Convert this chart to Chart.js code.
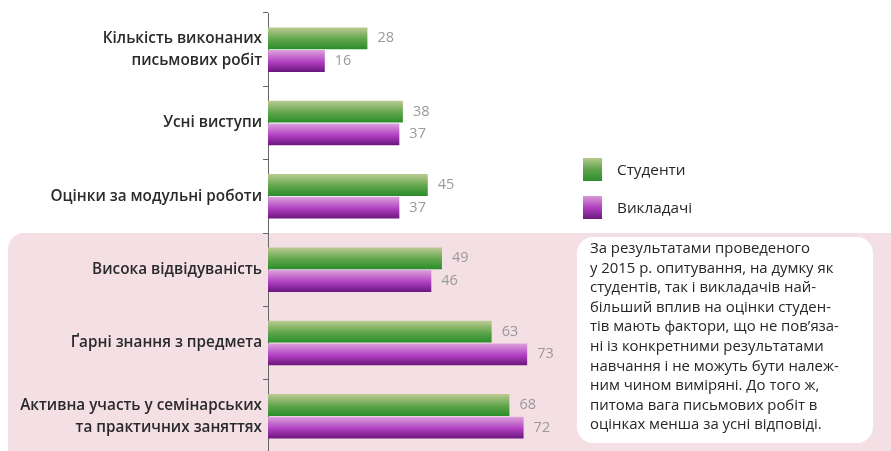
<!DOCTYPE html>
<html>
<head>
<meta charset="utf-8">
<script src="https://cdn.jsdelivr.net/npm/chart.js@4/dist/chart.umd.min.js"></script>
<style>
  html, body { margin: 0; padding: 0; background: #fff; overflow: hidden; }
  #wrap { position: relative; width: 891px; height: 451px; overflow: hidden; font-family: "Open Sans", Lato, sans-serif; }
  #pink { position: absolute; left: 8px; top: 233px; width: 900px; height: 240px; background: #f3dfe4; border-radius: 16px; }
  #note { position: absolute; left: 577px; top: 237px; width: 296px; height: 206px; background: #fff; border-radius: 16px;
          box-sizing: border-box; padding: 1px 0 0 13px; font-size: 14.9px; line-height: 19.6px; color: #262626; }
  .leg { position: absolute; left: 583px; font-size: 15.3px; color: #262626; }
  .leg span { position: absolute; left: 0; width: 19px; height: 23px; }
  .leg b { position: absolute; left: 34px; top: 1px; font-weight: normal; white-space: nowrap; }
  canvas { position: absolute; left: 0; top: 0; }
</style>
</head>
<body>
<div id="wrap">
  <div id="pink"></div>
  <canvas id="c" width="891" height="472"></canvas>
  <div class="leg" style="top:158px"><span style="background:linear-gradient(#b8c98f,#5ea24a,#2f8f2f)"></span><b>Студенти</b></div>
  <div class="leg" style="top:196px"><span style="background:linear-gradient(#d89bd8,#b040c0,#6a1a7a)"></span><b>Викладачі</b></div>
  <div id="note">За результатами проведеного<br>у 2015 р. опитування, на думку як<br>студентів, так і викладачів най-<br>більший вплив на оцінки студен-<br>тів мають фактори, що не пов’яза-<br>ні із конкретними результатами<br>навчання і не можуть бути належ-<br>ним чином виміряні. До того ж,<br>питома вага письмових робіт в<br>оцінках менша за усні відповіді.</div>
</div>
<script>
const categories = [
  ["Кількість виконаних", "письмових робіт"],
  "Усні виступи",
  "Оцінки за модульні роботи",
  "Висока відвідуваність",
  "Ґарні знання з предмета",
  ["Активна участь у семінарських", "та практичних заняттях"]
];
const students = [28, 38, 45, 49, 63, 68];
const teachers = [16, 37, 37, 46, 73, 72];

const CAT_PCT = 0.62, BAR_PCT = 0.96;
const FONT = "'Open Sans', Lato, sans-serif";

function grad(stops, fallback) {
  return function (ctx) {
    const chart = ctx.chart;
    const y = chart.scales && chart.scales.y;
    if (!y || !chart.chartArea || ctx.dataIndex === undefined) return fallback;
    const cat = (chart.chartArea.bottom - chart.chartArea.top) / categories.length;
    const slot = cat * CAT_PCT / 2;
    const h = slot * BAR_PCT;
    const c = y.getPixelForValue(ctx.dataIndex) + (ctx.datasetIndex === 0 ? -slot / 2 : slot / 2);
    const g = chart.ctx.createLinearGradient(0, c - h / 2, 0, c + h / 2);
    g.addColorStop(0, stops[0]);
    g.addColorStop(0.55, stops[1]);
    g.addColorStop(1, stops[2]);
    return g;
  };
}

const valueLabels = {
  id: "valueLabels",
  afterDatasetsDraw(chart) {
    const ctx = chart.ctx;
    ctx.save();
    ctx.font = "14.5px " + FONT;
    ctx.fillStyle = "#9a9a9a";
    ctx.textBaseline = "middle";
    chart.data.datasets.forEach((ds, di) => {
      chart.getDatasetMeta(di).data.forEach((bar, i) => {
        ctx.fillText(String(ds.data[i]), bar.x + 10, bar.y);
      });
    });
    ctx.restore();
  }
};

new Chart(document.getElementById("c"), {
  type: "bar",
  data: {
    labels: categories,
    datasets: [
      { label: "Студенти", data: students, backgroundColor: grad(["#bccb93", "#5fa54a", "#2a8d2a"], "#4e9a3e") },
      { label: "Викладачі", data: teachers, backgroundColor: grad(["#dca2dc", "#b03fc1", "#6a167b"], "#a030b0") }
    ]
  },
  options: {
    indexAxis: "y",
    responsive: false,
    animation: false,
    events: [],
    categoryPercentage: CAT_PCT,
    barPercentage: BAR_PCT,
    layout: { padding: { left: 0, right: 339, top: 13, bottom: 19 } },
    plugins: { legend: { display: false }, tooltip: { enabled: false } },
    scales: {
      x: { display: false, min: 0, max: 80 },
      y: {
        offset: true,
        afterFit(scale) {
          // keep the axis where the original puts it, ignore label overhang
          scale.width = 268;
          scale.paddingTop = 0;
          scale.paddingBottom = 0;
        },
        border: { display: true, color: "#666", width: 1 },
        grid: { drawOnChartArea: false, drawTicks: true, tickLength: 5, color: "#666", offset: true },
        ticks: { color: "#2a2a2a", padding: 1, font: { family: FONT, size: 15.3, weight: "600", lineHeight: 1.45 } }
      }
    }
  },
  plugins: [valueLabels]
});
</script>
</body>
</html>
